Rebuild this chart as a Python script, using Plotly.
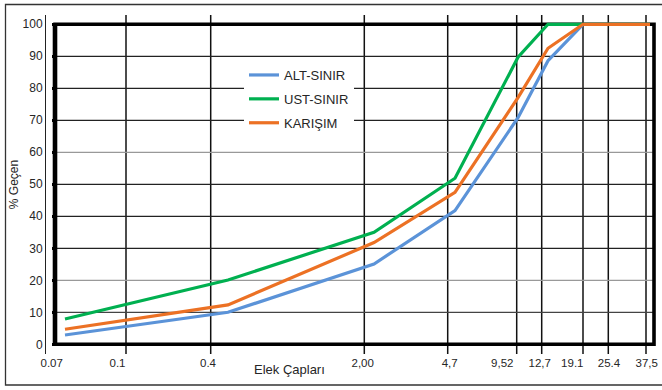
import plotly.graph_objects as go

# ---- data (x positions are in chart units along the hand-spaced sieve axis) ----
POINT_X = [10, 173, 319, 400, 463, 493, 528, 595]
ALT_SINIR = [2.9, 10, 25.1, 41.8, 70.8, 88.6, 100, 100]
UST_SINIR = [7.9, 20.1, 35, 51.9, 89.7, 100, 100, 100]
KARISIM = [4.7, 12.3, 31.8, 47.5, 77.1, 92.5, 100, 100]

TICK_LABELS = ["0.07", "0.1", "0.4", "2,00", "4,7", "9,52", "12,7", "19.1", "25.4", "37,5"]
TICK_LABEL_POS = [-3.3, 62.5, 153, 307.7, 394.7, 447.3, 484.7, 517.3, 554, 591.7]
GRID_X = [71, 155.7, 309.3, 392.7, 461.7, 486.7, 528, 553.3, 591]
Y_TICKS = [0, 10, 20, 30, 40, 50, 60, 70, 80, 90, 100]
Y_GRID = [10, 20, 30, 40, 50, 60, 70, 80, 90]
Y_GRID_COLORS = ["#444", "#999", "#222", "#222", "#222", "#999", "#222", "#222", "#222"]

# ---- layout constants ----
W, H = 662, 390
ML, MR, MT, MB = 46, 5, 15, 36
PW, PH = W - ML - MR, H - MT - MB
X_RANGE = [-9, 602]
Y_RANGE = [-3.03, 102.9]
FRAME_X = [0, 599]

def px_to_paper_x(px):
    return (px - ML) / PW

def px_to_paper_y(py):
    return (H - MB - py) / PH

FONT = "Liberation Sans, Arial, sans-serif"
TXT = "#262626"

fig = go.Figure()
series = [("ALT-SINIR", ALT_SINIR, "#5B93D8"),
          ("UST-SINIR", UST_SINIR, "#00B050"),
          ("KARIŞIM", KARISIM, "#EC7124")]
for i, (name, vals, col) in enumerate(series):
    fig.add_trace(go.Scatter(x=POINT_X, y=vals, name=name, mode="lines",
                             line=dict(color=col, width=3.2),
                             legendgroup=f"g{i}", hoverinfo="skip"))
# dummy trace to anchor the tick-mark axis
fig.add_trace(go.Scatter(x=[], y=[], yaxis="y2", showlegend=False, hoverinfo="skip"))

shapes = []
# horizontal gridlines
for yv, c in zip(Y_GRID, Y_GRID_COLORS):
    shapes.append(dict(type="line", xref="x", yref="y", x0=FRAME_X[0], x1=FRAME_X[1],
                       y0=yv, y1=yv, line=dict(color=c, width=1.2), layer="below"))
# vertical gridlines (extend a little beyond the frame)
for xv in GRID_X:
    shapes.append(dict(type="line", xref="x", yref="paper", x0=xv, x1=xv,
                       y0=0, y1=1, line=dict(color="#111", width=1.5), layer="below"))
# thick frame
shapes.append(dict(type="rect", xref="x", yref="y", x0=FRAME_X[0], x1=FRAME_X[1],
                   y0=0, y1=100, line=dict(color="black", width=3.6), layer="below"))
shapes.append(dict(type="line", xref="x", yref="y", x0=FRAME_X[0], x1=FRAME_X[0],
                   y0=0, y1=100, line=dict(color="black", width=4.6), layer="below"))
# outer border
shapes.append(dict(type="rect", xref="paper", yref="paper",
                   x0=px_to_paper_x(5.5), x1=px_to_paper_x(667),
                   y0=px_to_paper_y(385), y1=px_to_paper_y(4.5),
                   line=dict(color="#333", width=1.3), layer="below"))

fig.update_layout(
    width=W, height=H,
    margin=dict(l=ML, r=MR, t=MT, b=MB),
    paper_bgcolor="white", plot_bgcolor="white",
    font=dict(family=FONT, size=12, color=TXT),
    showlegend=True,
    legend=dict(x=px_to_paper_x(244), y=px_to_paper_y(60), xanchor="left", yanchor="top",
                bgcolor="white", borderwidth=0, tracegroupgap=4,
                font=dict(family=FONT, size=13, color=TXT)),
    xaxis=dict(range=X_RANGE, showgrid=False, zeroline=False, showline=False,
               tickmode="array", tickvals=TICK_LABEL_POS, ticktext=TICK_LABELS,
               ticks="", tickfont=dict(size=11.5, color=TXT)),
    yaxis=dict(range=Y_RANGE, showgrid=False, zeroline=False, showline=True,
               linecolor="#222", linewidth=1, mirror=False,
               tickmode="array", tickvals=Y_TICKS, ticks="",
               tickfont=dict(size=12, color=TXT),
               title=dict(text="% Geçen", font=dict(size=12, color=TXT), standoff=1)),
    yaxis2=dict(range=Y_RANGE, overlaying="y", anchor="free",
                position=px_to_paper_x(55), side="left",
                tickmode="array", tickvals=Y_TICKS, ticks="outside", ticklen=3,
                tickwidth=3, tickcolor="black", showticklabels=False,
                showgrid=False, zeroline=False, showline=False),
    shapes=shapes,
    annotations=[dict(text="Elek Çapları", xref="paper", yref="paper",
                      x=px_to_paper_x(289), y=px_to_paper_y(369),
                      xanchor="center", yanchor="middle", showarrow=False,
                      font=dict(size=13, color=TXT))],
)

fig.write_html("out.html")
